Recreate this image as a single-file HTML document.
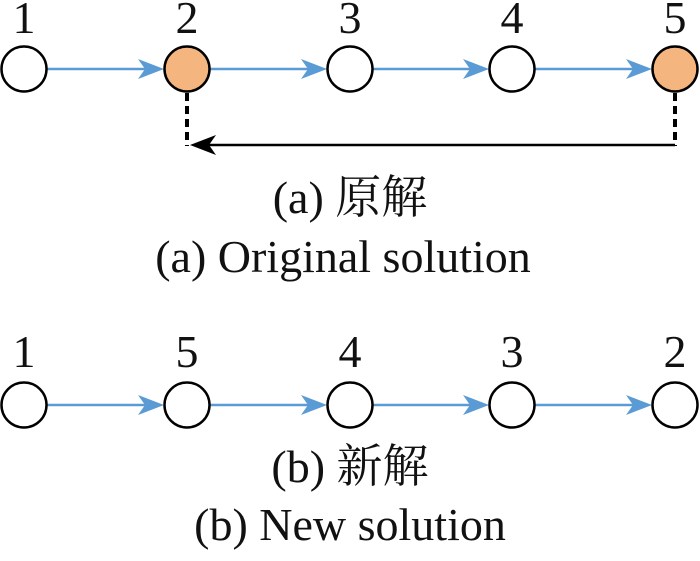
<!DOCTYPE html>
<html><head><meta charset="utf-8"><style>
html,body{margin:0;padding:0;background:#fff;}
</style></head><body>
<svg width="700" height="556" viewBox="0 0 700 556" xmlns="http://www.w3.org/2000/svg">
<g font-size="46" text-anchor="middle" fill="#111" font-family="'Liberation Serif', 'Times New Roman', 'Noto Serif CJK SC', serif">
<text x="24" y="33">1</text><text x="187" y="33">2</text><text x="350" y="33">3</text><text x="512" y="33">4</text><text x="675" y="33">5</text>
<text x="24" y="367">1</text><text x="187" y="367">5</text><text x="350" y="367">4</text><text x="512" y="367">3</text><text x="675" y="367">2</text>
<text x="350" y="213">(a) 原解</text>
<text x="343" y="272">(a) Original solution</text>
<text x="350" y="482">(b) 新解</text>
<text x="350" y="540">(b) New solution</text>
</g>
<g>
<g stroke="#5b9bd5" stroke-width="2.5" fill="#5b9bd5">
<line x1="47" y1="69" x2="150" y2="69"/><polygon points="164,69 138,59 145,69 138,79" stroke="none"/>
<line x1="210" y1="69" x2="313" y2="69"/><polygon points="327,69 301,59 308,69 301,79" stroke="none"/>
<line x1="373" y1="69" x2="475" y2="69"/><polygon points="489,69 463,59 470,69 463,79" stroke="none"/>
<line x1="535" y1="69" x2="638" y2="69"/><polygon points="652,69 626,59 633,69 626,79" stroke="none"/>
</g>
<g stroke="#000" stroke-width="2.5">
<circle cx="24" cy="69" r="22.5" fill="#fff"/>
<circle cx="187" cy="69" r="22.5" fill="#f4b57e"/>
<circle cx="350" cy="69" r="22.5" fill="#fff"/>
<circle cx="512" cy="69" r="22.5" fill="#fff"/>
<circle cx="675" cy="69" r="22.5" fill="#f4b57e"/>
</g>
<g stroke="#000" stroke-width="4" stroke-dasharray="8,5">
<line x1="187" y1="93" x2="187" y2="146"/>
<line x1="675" y1="93" x2="675" y2="146"/>
</g>
<line x1="675" y1="145" x2="200" y2="145" stroke="#000" stroke-width="2.5"/>
<polygon points="190,145 216,135 209,145 216,155" fill="#000"/>
</g>
<g transform="translate(0,336)">
<g stroke="#5b9bd5" stroke-width="2.5" fill="#5b9bd5">
<line x1="47" y1="69" x2="150" y2="69"/><polygon points="164,69 138,59 145,69 138,79" stroke="none"/>
<line x1="210" y1="69" x2="313" y2="69"/><polygon points="327,69 301,59 308,69 301,79" stroke="none"/>
<line x1="373" y1="69" x2="475" y2="69"/><polygon points="489,69 463,59 470,69 463,79" stroke="none"/>
<line x1="535" y1="69" x2="638" y2="69"/><polygon points="652,69 626,59 633,69 626,79" stroke="none"/>
</g>
<g stroke="#000" stroke-width="2.5" fill="#fff">
<circle cx="24" cy="69" r="22.5"/><circle cx="187" cy="69" r="22.5"/><circle cx="350" cy="69" r="22.5"/><circle cx="512" cy="69" r="22.5"/><circle cx="675" cy="69" r="22.5"/>
</g>
</g>
</svg>
</body></html>
